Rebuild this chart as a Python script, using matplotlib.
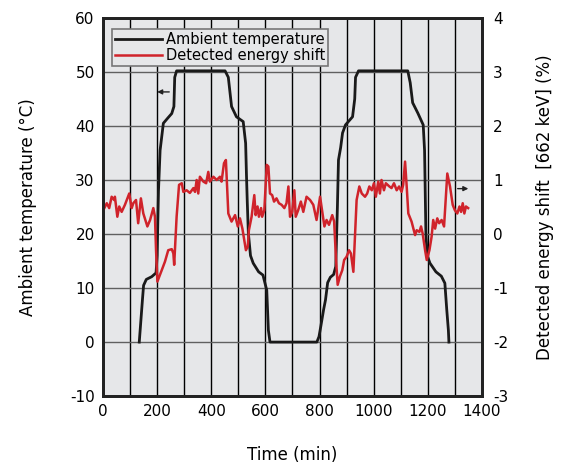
import matplotlib.pyplot as plt

# ambient temperature (deg C) vs time (min)
t_amb = [134, 140, 146, 150, 160, 180, 196, 200, 205, 211, 223, 240, 254, 262, 265, 272,
         451, 463, 475, 493, 518, 527, 530, 533, 537, 545, 555, 575, 591, 605, 611, 617, 625,
         790, 798, 805, 815, 822, 830, 840, 852, 860, 866, 870, 878, 885, 896, 922, 930, 933, 944,
         1126, 1135, 1144, 1163, 1183, 1188, 1193, 1198, 1208, 1230, 1250, 1263, 1270, 1276, 1278]
temp = [0, 4, 8, 10.5, 11.6, 12.1, 12.8, 16, 28, 35.5, 40.5, 41.5, 42.3, 43.6, 49, 50.2,
        50.2, 49, 43.6, 41.7, 40.8, 36.8, 31, 26, 20.2, 16, 14.6, 13, 12.4, 9.6, 2.2, 0, 0,
        0, 1, 3, 6, 7.8, 11, 12, 12.5, 14, 25, 33.7, 36, 38.7, 40.2, 41.7, 45, 49, 50.2,
        50.2, 48, 44.3, 42.4, 40.2, 35.5, 20, 16, 14.6, 13, 12.2, 10.9, 6, 2.2, 0]

# detected energy shift (%) vs time (min)
t_shift = [1, 14, 23, 32, 41, 44, 53, 60, 69, 81, 88, 97, 106, 112, 122, 130, 140, 149, 164,
           174, 186, 192, 196, 201, 208, 217, 229, 241, 254, 260, 263, 272, 281, 291, 297, 309,
           321, 334, 340, 346, 352, 358, 371, 381, 389, 395, 408, 420, 432, 438, 447, 454, 463,
           475, 488, 498, 506, 515, 522, 528, 535, 539, 549, 559, 564, 571, 576, 584, 588, 596,
           605, 611, 617, 625, 632, 641, 650, 660, 670, 678, 685, 691, 699, 707, 712, 721, 731,
           740, 752, 765, 777, 789, 802, 818, 826, 835, 847, 854, 861, 867, 875, 884, 891, 900,
           909, 916, 925, 937, 947, 956, 968, 976, 984, 993, 1001, 1008, 1017, 1023, 1029, 1038,
           1045, 1058, 1066, 1075, 1085, 1094, 1103, 1109, 1116, 1122, 1128, 1140, 1153, 1159,
           1169, 1175, 1181, 1190, 1196, 1206, 1214, 1220, 1227, 1235, 1242, 1251, 1260, 1272,
           1282, 1292, 1300, 1309, 1317, 1323, 1329, 1335, 1341, 1349]
shift = [0.44, 0.57, 0.48, 0.69, 0.63, 0.69, 0.32, 0.51, 0.41, 0.54, 0.63, 0.75, 0.48, 0.57,
         0.63, 0.2, 0.66, 0.38, 0.14, 0.26, 0.48, 0.32, -0.3, -0.88, -0.79, -0.67, -0.51, -0.3,
         -0.28, -0.36, -0.57, 0.32, 0.91, 0.94, 0.78, 0.81, 0.76, 0.85, 0.78, 1.0, 0.75, 1.06,
         0.97, 0.94, 1.15, 0.97, 1.06, 1.0, 1.06, 0.97, 1.31, 1.37, 0.38, 0.23, 0.35, 0.14, 0.29,
         0.1, -0.11, -0.3, -0.23, 0.07, 0.32, 0.72, 0.35, 0.51, 0.32, 0.48, 0.32, 0.44, 1.28,
         1.25, 0.75, 0.72, 0.6, 0.66, 0.57, 0.54, 0.48, 0.57, 0.88, 0.32, 0.41, 0.81, 0.32, 0.44,
         0.6, 0.41, 0.69, 0.63, 0.54, 0.26, 0.69, 0.14, 0.26, 0.17, 0.35, 0.23, -0.48, -0.94,
         -0.79, -0.67, -0.48, -0.42, -0.3, -0.36, -0.7, 0.63, 0.88, 0.75, 0.69, 0.75, 0.88, 0.81,
         0.94, 0.69, 0.97, 0.75, 1.0, 0.81, 0.94, 0.88, 0.85, 0.94, 0.81, 0.88, 0.78, 0.91, 1.34,
         0.88, 0.38, 0.23, -0.02, 0.07, 0.04, 0.14, 0.01, -0.3, -0.48, -0.3, -0.05, 0.26, 0.1,
         0.29, 0.2, 0.26, 0.14, 1.12, 0.88, 0.54, 0.44, 0.38, 0.51, 0.41, 0.57, 0.38, 0.51, 0.48]

bg = '#e6e7e9'
red = '#d0232b'

plt.rcParams['axes.unicode_minus'] = False

fig = plt.figure(figsize=(5.69, 4.71), dpi=100)
ax = fig.add_axes([0.181, 0.159, 0.666, 0.803])
ax.set_facecolor(bg)
ax2 = ax.twinx()

ax.set_xlim(0, 1400)
ax.set_ylim(-10, 60)
ax2.set_ylim(-3, 4)
ax.set_xticks(range(0, 1401, 200))
ax.set_xticks(range(0, 1401, 100), minor=True)
ax.set_yticks(range(-10, 61, 10))
ax2.set_yticks(range(-3, 5))

ax.grid(True, axis='x', which='both', color='black', lw=1)
ax.grid(True, axis='y', color='#606060', lw=1)
ax.set_axisbelow(True)

l1, = ax.plot(t_amb, temp, color='#1a1a1a', lw=2, label='Ambient temperature')
l2, = ax2.plot(t_shift, shift, color=red, lw=1.8, label='Detected energy shift')

for a in (ax, ax2):
    for s in a.spines.values():
        s.set_linewidth(2)
        s.set_color('#222222')
ax.tick_params(axis='both', which='both', direction='in', length=0, labelsize=11, pad=6)
ax2.tick_params(axis='y', direction='in', length=0, labelsize=11, pad=8)

ax.set_xlabel('Time (min)', fontsize=12, labelpad=19)
ax.set_ylabel('Ambient temperature (°C)', fontsize=12, labelpad=24)
ax2.set_ylabel('Detected energy shift  [662 keV] (%)', fontsize=12, labelpad=20)

ax.annotate('', xy=(190, 46.3), xytext=(255, 46.3),
            arrowprops=dict(arrowstyle='-|>', color='#222222', lw=1, mutation_scale=7))
ax.annotate('', xy=(1360, 28.4), xytext=(1300, 28.4),
            arrowprops=dict(arrowstyle='-|>', color='#222222', lw=1, mutation_scale=7))

leg = ax2.legend(handles=[l1, l2], loc='upper left', fontsize=10.5, frameon=True,
                 fancybox=False, edgecolor='#777777', facecolor=bg, framealpha=1,
                 borderpad=0.2, labelspacing=0.1, handlelength=3.2, handletextpad=0.3,
                 bbox_to_anchor=(0.005, 0.99))
leg.get_frame().set_linewidth(1.2)

fig.savefig('out.png', dpi=100)
